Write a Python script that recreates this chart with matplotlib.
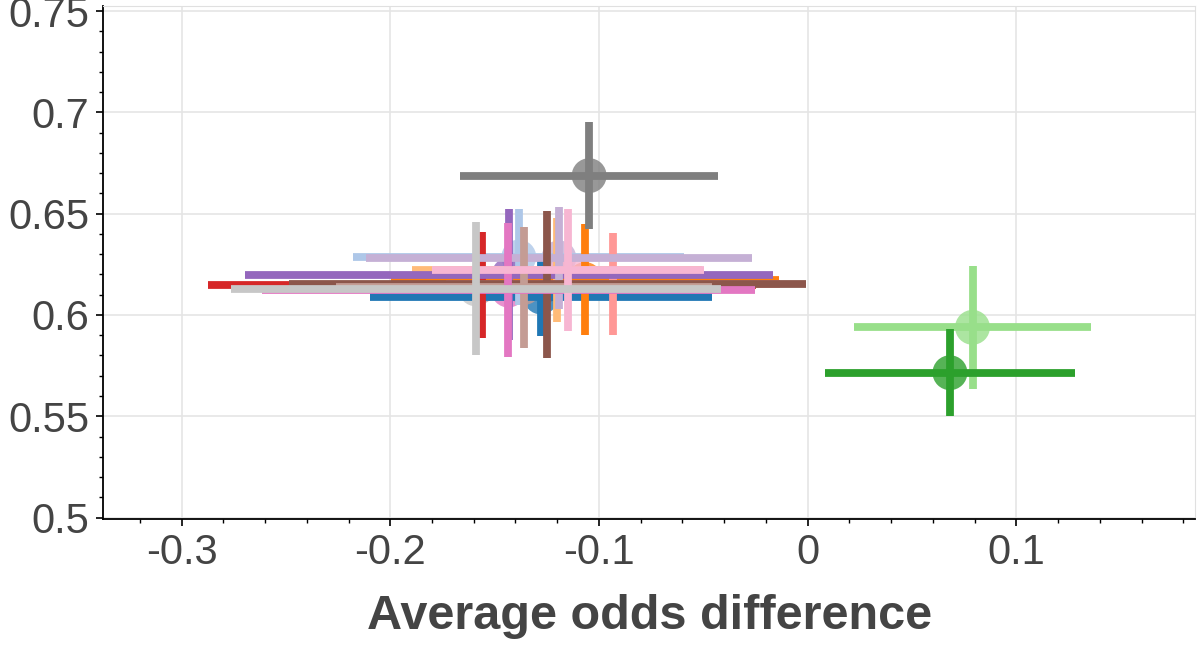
import numpy as np
import matplotlib
matplotlib.use("Agg")
import matplotlib.pyplot as plt
from matplotlib.ticker import MultipleLocator, FuncFormatter

# points in drawing order (colour, x, y, xerr, yerr)
colors = ['#1f77b4', '#aec7e8', '#ff7f0e', '#ffbb78', '#98df8a', '#2ca02c',
          '#d62728', '#ff9896', '#9467bd', '#c5b0d5', '#8c564b', '#c49c94',
          '#e377c2', '#f7b6d2', '#7f7f7f', '#c7c7c7']
x = [-0.1278, -0.1384, -0.1067, -0.1201, 0.0790, 0.0682,
     -0.1561, -0.0933, -0.1431, -0.1192, -0.1247, -0.1359,
     -0.1434, -0.1149, -0.1047, -0.1590]
y = [0.6089, 0.6286, 0.6175, 0.6220, 0.5939, 0.5715,
     0.6148, 0.6153, 0.6198, 0.6282, 0.6151, 0.6136,
     0.6123, 0.6222, 0.6688, 0.6129]
xerr = [0.0820, 0.0793, 0.0929, 0.0695, 0.0566, 0.0600,
        0.1313, 0.0800, 0.1265, 0.0925, 0.1238, 0.0900,
        0.1181, 0.0652, 0.0617, 0.1174]
yerr = [0.0193, 0.0237, 0.0274, 0.0257, 0.0302, 0.0214,
        0.0264, 0.0252, 0.0323, 0.0252, 0.0363, 0.0299,
        0.0330, 0.0301, 0.0263, 0.0328]

plt.rcParams['font.family'] = ['Liberation Sans', 'DejaVu Sans']
plt.rcParams['axes.unicode_minus'] = False
txt = '#444444'

fig = plt.figure(figsize=(12, 6.5), dpi=100)
ax = fig.add_axes([0.0861, 0.201, 0.9097, 0.7902])

# markers underneath every error bar
ax.scatter(x, y, s=630, c=colors, alpha=0.8, linewidths=0, zorder=2)
for i in range(len(x)):
    ax.errorbar(x[i], y[i], xerr=xerr[i], yerr=yerr[i], fmt='none',
                ecolor=colors[i], elinewidth=5.6, capsize=0, zorder=3)

ax.set_xlim(-0.3375, 0.1856)
ax.set_ylim(0.4991, 0.7527)
ax.xaxis.set_major_locator(MultipleLocator(0.1))
ax.xaxis.set_minor_locator(MultipleLocator(0.02))
ax.yaxis.set_major_locator(MultipleLocator(0.05))
ax.yaxis.set_minor_locator(MultipleLocator(0.01))
ax.xaxis.set_major_formatter(FuncFormatter(
    lambda v, p: '0' if abs(v) < 1e-9 else ('%g' % round(v, 2))))
ax.yaxis.set_major_formatter(FuncFormatter(lambda v, p: '%g' % round(v, 2)))

ax.grid(True, which='major', color='#e5e5e5', linewidth=1.2, zorder=0)
ax.set_axisbelow(True)
ax.tick_params(which='major', direction='out', length=5, width=1.2,
               color='black', labelsize=30, labelcolor=txt, pad=5)
ax.tick_params(which='minor', direction='out', length=3, width=1,
               color='black')
for s in ['top', 'right']:
    ax.spines[s].set_color('#e0e0e0')
for s in ['left', 'bottom']:
    ax.spines[s].set_color('black')
    ax.spines[s].set_linewidth(1.3)

ax.set_xlabel('Average odds difference', fontsize=35, fontweight='bold',
              color=txt, labelpad=15)

fig.savefig('out.png', dpi=100)
